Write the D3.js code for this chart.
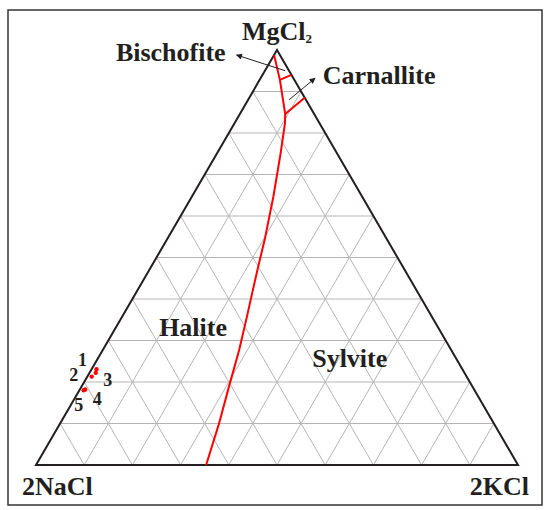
<!DOCTYPE html>
<html>
<head>
<meta charset="utf-8">
<script src="https://cdn.jsdelivr.net/npm/d3@7"></script>
<style>
  html, body { margin: 0; padding: 0; background: #fff; }
  svg { display: block; }
  text { font-family: "Liberation Serif", "Times New Roman", serif; font-weight: bold; fill: #231f20; }
</style>
</head>
<body>
<div id="chart"></div>
<script>
// ternary values in percent: [MgCl2, 2KCl]  (2NaCl = 100 - both)
var gridTicks = [10, 20, 30, 40, 50, 60, 70, 80, 90];

// main halite / sylvite / carnallite boundary, apex to base
var boundaryMain = [
  [98.8, 0], [92.8, 4.2], [84.6, 9.4], [82.3, 10.5], [75.1, 13.2],
  [64.7, 16.9], [54.6, 20.2], [47.8, 22.2], [42.2, 23.9], [35.7, 25.9],
  [27.7, 28.3], [18.1, 30.8], [9.9, 33.0], [0, 35.3]
];
// bischofite / carnallite boundary
var boundaryUpper = [[92.8, 4.2], [94.0, 6.0]];
// carnallite / sylvite boundary
var boundaryLower = [[84.6, 9.4], [88.5, 11.5]];

var sampleIds = ['1', '2', '3', '4', '5'];
var sampleMg = [23.1, 21.3, 22.2, 18.2, 18.0];
var sampleK = [1.0, 0.9, 1.3, 1.1, 0.9];

var vertexLabels = ['MgCl', '2NaCl', '2KCl'];
var fieldNames = ['Halite', 'Sylvite', 'Bischofite', 'Carnallite'];

// Set the dimensions
var width = 550,
  height = 510;

var svg = d3
  .select('#chart')
  .append('svg')
  .attr('width', width)
  .attr('height', height);

// triangle frame in pixels
var xL = 36, xR = 518, yB = 465, yA = 50;

// horizontal position (k + a/2) and height (a)
var xScale = d3.scaleLinear().domain([0, 100]).range([xL, xR]);
var yScale = d3.scaleLinear().domain([0, 100]).range([yB, yA]);

function px(d) {
  // d = [MgCl2, KCl]
  return [xScale(d[1] + d[0] / 2), yScale(d[0])];
}

var line = d3.line().x(function(d) { return px(d)[0]; }).y(function(d) { return px(d)[1]; });

// outer frame
svg.append('rect')
  .attr('x', 8)
  .attr('y', 10)
  .attr('width', 534)
  .attr('height', 495)
  .attr('fill', 'none')
  .attr('stroke', '#333')
  .attr('stroke-width', 1.5);

// arrowhead marker
svg.append('defs')
  .append('marker')
  .attr('id', 'arrow')
  .attr('viewBox', '0 0 10 10')
  .attr('refX', 9)
  .attr('refY', 5)
  .attr('markerWidth', 7)
  .attr('markerHeight', 6)
  .attr('markerUnits', 'userSpaceOnUse')
  .attr('orient', 'auto')
  .append('path')
  .attr('d', 'M0,0 L10,5 L0,10 Z')
  .attr('fill', '#231f20');

// ****************** grid ***************************
var gridSegs = [];
gridTicks.forEach(function(t) {
  gridSegs.push([[t, 0], [t, 100 - t]]);       // const MgCl2
  gridSegs.push([[0, t], [100 - t, t]]);       // const KCl
  gridSegs.push([[0, 100 - t], [100 - t, 0]]); // const NaCl
});

svg.append('g')
  .selectAll('path.grid')
  .data(gridSegs)
  .enter()
  .append('path')
  .attr('class', 'grid')
  .attr('d', line)
  .attr('fill', 'none')
  .attr('stroke', '#b5b5b5')
  .attr('stroke-width', 1);

// triangle outline
svg.append('path')
  .attr('d', line([[100, 0], [0, 0], [0, 100]]) + 'Z')
  .attr('fill', 'none')
  .attr('stroke', '#231f20')
  .attr('stroke-width', 2)
  .attr('stroke-linejoin', 'miter');

// ****************** phase boundaries ***************************
svg.append('g')
  .selectAll('path.bound')
  .data([boundaryMain, boundaryUpper, boundaryLower])
  .enter()
  .append('path')
  .attr('class', 'bound')
  .attr('d', line)
  .attr('fill', 'none')
  .attr('stroke', '#ff0000')
  .attr('stroke-width', 2)
  .attr('stroke-linejoin', 'round');

// samples
var samples = sampleIds.map(function(id, i) {
  return { id: id, mg: sampleMg[i], k: sampleK[i] };
});
// label offsets around the dots
var labelOff = [[-14, -3], [-18, 4], [12, 13], [12, 16], [-5, 21]];

svg.append('g')
  .selectAll('circle')
  .data(samples)
  .enter()
  .append('circle')
  .attr('cx', function(d) { return px([d.mg, d.k])[0]; })
  .attr('cy', function(d) { return px([d.mg, d.k])[1]; })
  .attr('r', 2.2)
  .attr('fill', '#ff0000');

svg.append('g')
  .selectAll('text')
  .data(samples)
  .enter()
  .append('text')
  .attr('x', function(d, i) { return px([d.mg, d.k])[0] + labelOff[i][0]; })
  .attr('y', function(d, i) { return px([d.mg, d.k])[1] + labelOff[i][1]; })
  .attr('text-anchor', 'middle')
  .style('font-size', '18px')
  .text(function(d) { return d.id; });

// ****************** labels ***************************
var apex = px([100, 0]), left = px([0, 0]), right = px([0, 100]);

var mg = svg.append('text')
  .attr('x', apex[0])
  .attr('y', apex[1] - 10)
  .attr('text-anchor', 'middle')
  .style('font-size', '26px')
  .text(vertexLabels[0]);
mg.append('tspan')
  .attr('dy', 3)
  .style('font-size', '13px')
  .text('2');

svg.append('text')
  .attr('x', left[0] - 14)
  .attr('y', left[1] + 30)
  .style('font-size', '26px')
  .text(vertexLabels[1]);

svg.append('text')
  .attr('x', right[0] + 11)
  .attr('y', right[1] + 30)
  .attr('text-anchor', 'end')
  .style('font-size', '26px')
  .text(vertexLabels[2]);

// field names, anchored by ternary position
var fieldPos = [[31.1, 10.0], [23.6, 45.5], [97.3, -9.3], [91.8, 13.6]];
var fieldAnchor = ['start', 'start', 'end', 'start'];
svg.append('g')
  .selectAll('text')
  .data(fieldNames)
  .enter()
  .append('text')
  .attr('x', function(d, i) { return px(fieldPos[i])[0]; })
  .attr('y', function(d, i) { return px(fieldPos[i])[1]; })
  .attr('text-anchor', function(d, i) { return fieldAnchor[i]; })
  .style('font-size', '26px')
  .text(function(d) { return d; });

// pointer arrows for the small fields
var arrows = [
  [[95.0, 4.2], [98.8, -7.8]],  // Bischofite
  [[88.0, 8.5], [93.2, 11.3]]   // Carnallite
];
svg.append('g')
  .selectAll('path.arrow')
  .data(arrows)
  .enter()
  .append('path')
  .attr('class', 'arrow')
  .attr('d', line)
  .attr('fill', 'none')
  .attr('stroke', '#231f20')
  .attr('stroke-width', 1)
  .attr('marker-end', 'url(#arrow)');
</script>
</body>
</html>
